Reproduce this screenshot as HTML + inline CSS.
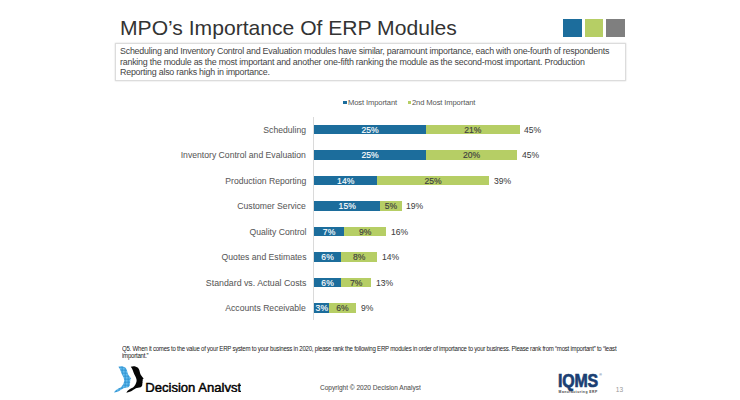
<!DOCTYPE html>
<html><head><meta charset="utf-8">
<style>
html,body{margin:0;padding:0;background:#fff;}
body{width:740px;height:400px;position:relative;overflow:hidden;font-family:"Liberation Sans",Arial,sans-serif;color:#333;}
.abs{position:absolute;white-space:nowrap;}
#title{left:120px;top:15.8px;font-size:21.1px;color:#333;line-height:24px;}
.sq{position:absolute;top:18.7px;width:18.5px;height:18px;}
#box{position:absolute;left:114.6px;top:43px;width:511px;height:38px;border:1px solid #dcdcdc;box-sizing:border-box;box-shadow:0 0 1.5px rgba(0,0,0,.18);}
#boxtext{position:absolute;left:120px;top:46px;font-size:8.9px;line-height:10.5px;color:#444;white-space:nowrap;letter-spacing:-0.227px;}
.lbl{position:absolute;right:434px;font-size:9.3px;line-height:12px;color:#595959;white-space:nowrap;text-align:right;transform:scaleX(0.928);transform-origin:right center;-webkit-text-stroke:0.05px #595959;}
.bar{position:absolute;height:9.4px;}
.b{background:#1c6d9c;}
.g{background:#b6ce65;}
.v{position:absolute;font-size:9.4px;line-height:10px;text-align:center;white-space:nowrap;transform:scaleX(0.915);transform-origin:center center;-webkit-text-stroke:0.15px;}
.vb{color:#fff;}
.vg{color:#404040;}
.t{position:absolute;font-size:9.4px;line-height:10px;color:#404040;white-space:nowrap;transform:scaleX(0.915);transform-origin:left center;-webkit-text-stroke:0.05px #404040;}
#axis{position:absolute;left:313px;top:117px;width:1px;height:203px;background:#dadada;}
.leg{position:absolute;font-size:7.6px;line-height:10px;color:#555;white-space:nowrap;top:97.9px;letter-spacing:-0.115px;}
#q{position:absolute;left:121.6px;top:345.1px;font-size:6.4px;line-height:7.3px;color:#222;white-space:nowrap;letter-spacing:-0.25px;transform:scaleX(0.95);transform-origin:left top;}
#da{left:145.2px;top:378.8px;height:13.5px;overflow:hidden;font-size:13.1px;color:#000;line-height:18px;-webkit-text-stroke:0.45px #000;}
#copy{left:320.1px;top:382.6px;font-size:7.4px;line-height:9px;color:#555;transform:scaleX(0.885);transform-origin:left center;-webkit-text-stroke:0.1px #555;}
#pg{left:615.8px;top:385.3px;font-size:6.6px;line-height:9px;color:#999;}
#iqms{left:557.9px;top:370.1px;font-size:18.3px;line-height:21px;font-weight:bold;color:#1b3f73;transform:scaleX(0.87);transform-origin:left top;letter-spacing:-0.2px;-webkit-text-stroke:0.7px #1b3f73;}
#merp{left:558.6px;top:390.3px;font-size:3.4px;line-height:4px;font-weight:bold;color:#444;letter-spacing:0.46px;}
</style></head><body>
<div id="title" class="abs">MPO’s Importance Of ERP Modules</div>
<div class="sq" style="left:563.2px;background:#1c6d9c"></div>
<div class="sq" style="width:18px;left:585px;background:#b6ce65"></div>
<div class="sq" style="left:606.3px;background:#7f7f7f"></div>
<div id="box"></div>
<div id="boxtext">Scheduling and Inventory Control and Evaluation modules have similar, paramount importance, each with one-fourth of respondents<br>ranking the module as the most important and another one-fifth ranking the module as the second-most important. Production<br>Reporting also ranks high in importance.</div>

<div class="abs" style="left:343.1px;top:100.5px;width:3.8px;height:3.8px;background:#1c6d9c"></div>
<div class="leg" style="left:348px">Most Important</div>
<div class="abs" style="left:407.5px;top:100.5px;width:3.8px;height:3.8px;background:#b6ce65"></div>
<div class="leg" style="left:412px">2nd Most Important</div>

<div id="axis"></div>
<div class="lbl" style="top:123.70px">Scheduling</div>
<div class="bar b" style="left:313.6px;top:124.90px;width:112.15px"></div><div class="bar g" style="left:425.75px;top:124.90px;width:93.75px"></div>
<div class="v vb" style="left:313.6px;top:124.90px;width:112.15px">25%</div><div class="v vg" style="left:425.75px;top:124.90px;width:93.75px">21%</div><div class="t" style="left:524.10px;top:124.90px">45%</div>
<div class="lbl" style="top:149.20px">Inventory Control and Evaluation</div>
<div class="bar b" style="left:313.6px;top:150.40px;width:112.15px"></div><div class="bar g" style="left:425.75px;top:150.40px;width:91.25px"></div>
<div class="v vb" style="left:313.6px;top:150.40px;width:112.15px">25%</div><div class="v vg" style="left:425.75px;top:150.40px;width:91.25px">20%</div><div class="t" style="left:521.60px;top:150.40px">45%</div>
<div class="lbl" style="top:174.70px">Production Reporting</div>
<div class="bar b" style="left:313.6px;top:175.90px;width:63.40px"></div><div class="bar g" style="left:377.00px;top:175.90px;width:112.30px"></div>
<div class="v vb" style="left:313.6px;top:175.90px;width:63.40px">14%</div><div class="v vg" style="left:377.00px;top:175.90px;width:112.30px">25%</div><div class="t" style="left:493.90px;top:175.90px">39%</div>
<div class="lbl" style="top:200.20px">Customer Service</div>
<div class="bar b" style="left:313.6px;top:201.40px;width:66.40px"></div><div class="bar g" style="left:380.00px;top:201.40px;width:21.75px"></div>
<div class="v vb" style="left:313.6px;top:201.40px;width:66.40px">15%</div><div class="v vg" style="left:380.00px;top:201.40px;width:21.75px">5%</div><div class="t" style="left:406.35px;top:201.40px">19%</div>
<div class="lbl" style="top:225.70px">Quality Control</div>
<div class="bar b" style="left:313.6px;top:226.90px;width:30.15px"></div><div class="bar g" style="left:343.75px;top:226.90px;width:42.50px"></div>
<div class="v vb" style="left:313.6px;top:226.90px;width:30.15px">7%</div><div class="v vg" style="left:343.75px;top:226.90px;width:42.50px">9%</div><div class="t" style="left:390.85px;top:226.90px">16%</div>
<div class="lbl" style="top:251.20px">Quotes and Estimates</div>
<div class="bar b" style="left:313.6px;top:252.40px;width:27.15px"></div><div class="bar g" style="left:340.75px;top:252.40px;width:36.50px"></div>
<div class="v vb" style="left:313.6px;top:252.40px;width:27.15px">6%</div><div class="v vg" style="left:340.75px;top:252.40px;width:36.50px">8%</div><div class="t" style="left:381.85px;top:252.40px">14%</div>
<div class="lbl" style="top:276.70px;transform:scaleX(0.945)">Standard vs. Actual Costs</div>
<div class="bar b" style="left:313.6px;top:277.90px;width:27.15px"></div><div class="bar g" style="left:340.75px;top:277.90px;width:30.50px"></div>
<div class="v vb" style="left:313.6px;top:277.90px;width:27.15px">6%</div><div class="v vg" style="left:340.75px;top:277.90px;width:30.50px">7%</div><div class="t" style="left:375.85px;top:277.90px">13%</div>
<div class="lbl" style="top:302.20px">Accounts Receivable</div>
<div class="bar b" style="left:313.6px;top:303.40px;width:15.65px"></div><div class="bar g" style="left:329.25px;top:303.40px;width:27.00px"></div>
<div class="v vb" style="left:313.6px;top:303.40px;width:15.65px">3%</div><div class="v vg" style="left:329.25px;top:303.40px;width:27.00px">6%</div><div class="t" style="left:360.85px;top:303.40px">9%</div>


<div id="q">Q5. When it comes to the value of your ERP system to your business in 2020, please rank the following ERP modules in order of importance to your business. Please rank from “most important” to “least<br>important.”</div>

<svg class="abs" style="left:108px;top:362px" width="42" height="36" viewBox="0 0 466.6 400">
 <defs><pattern id="grid" width="16.665" height="16.665" patternUnits="userSpaceOnUse"><rect width="17" height="17" fill="#2389cd"/><rect x="0" y="0" width="11.5" height="11.5" fill="#74c8f4"/></pattern>
 <path id="head" d="M115,52 C140,42 175,45 195,65 C210,82 214,105 218,122 C221,138 238,160 258,184 C254,190 244,193 247,201 C252,208 243,212 246,221 C249,229 240,238 243,250 C244,262 236,276 225,280 C205,287 185,286 172,292 C150,302 125,332 66,342 C78,316 105,298 140,284 C160,270 174,240 180,212 C183,188 168,160 154,135 C143,110 136,78 115,52 Z"/></defs>
 <use href="#head" fill="url(#grid)"/>
 <use href="#head" x="138" fill="#050505"/>
</svg>
<div id="da" class="abs">Decision Analyst</div>
<div id="copy" class="abs">Copyright © 2020 Decision Analyst</div>
<div id="iqms" class="abs">IQMS</div>
<div id="reg" class="abs" style="left:599.2px;top:373px;font-size:3.5px;line-height:5px;color:#1b3f73">®</div>
<div id="merp" class="abs">Manufacturing ERP</div>
<div id="pg" class="abs">13</div>

</body></html>
